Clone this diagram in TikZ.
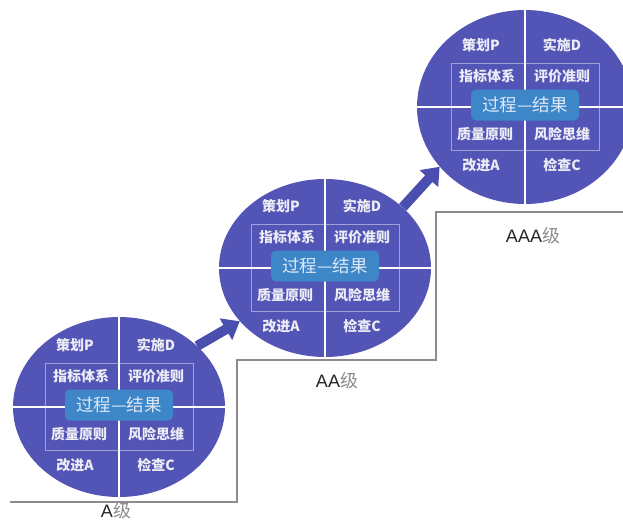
\documentclass[tikz,border=0pt]{standalone}
\usepackage{fontspec}
\setmainfont{Liberation Sans}
\newfontfamily\cjk{Noto Sans CJK SC}
\usetikzlibrary{shapes.geometric,arrows.meta}
\definecolor{circ}{HTML}{5355B6}
\definecolor{arrowblue}{HTML}{4A4EAE}
\definecolor{core}{HTML}{3D86C8}
\definecolor{coretext}{HTML}{DCE8F6}
\definecolor{celltxt}{HTML}{ECECF6}
\definecolor{stepgray}{HTML}{8C8C8C}
\tikzset{
  stagecircle/.style={ellipse, fill=circ, draw=none, inner sep=0pt, minimum width=212pt, minimum height=180pt},
  divline/.style={draw=white, line width=1.3pt},
  innerrect/.style={rectangle, draw=white, draw opacity=0.45, line width=0.8pt, minimum width=148pt, minimum height=87pt, inner sep=0pt},
  corebox/.style={rectangle, rounded corners=5pt, fill=core, minimum width=108pt, minimum height=31pt, inner sep=0pt, text=coretext, font=\cjk\fontsize{17.5}{18}\selectfont},
  celltext/.style={text=celltxt, font=\cjk\bfseries\fontsize{14}{15}\selectfont, inner sep=0pt},
  stepline/.style={draw=stepgray, line width=1.5pt},
  levelarrow/.style={draw=arrowblue, line width=10pt, -{Triangle[width=24pt,length=16pt]}},
  levellabel/.style={font=\fontsize{18}{18}\selectfont, text=black!85, inner sep=0pt},
}
\newcommand{\levelgrade}{{\cjk\color{black!45}级}}
\newcommand{\pdcastage}[4]{%
  \node[stagecircle,#4] (#1) at (#2,#3) {};
  \node[innerrect] (#1-r) at (#1.center) {};
  \draw[divline] (#1.north) -- (#1.south);
  \draw[divline] (#1.west) -- (#1.east);
  \node[corebox] (#1-core) at ([yshift=2pt]#1.center) {过程—结果};
  \node[celltext] (#1-p) at ([xshift=-44pt,yshift=62pt]#1.center) {策划P};
  \node[celltext] (#1-d) at ([xshift=37pt,yshift=62pt]#1.center) {实施D};
  \node[celltext] (#1-zb) at ([xshift=-38pt,yshift=31pt]#1.center) {指标体系};
  \node[celltext] (#1-pj) at ([xshift=37pt,yshift=31pt]#1.center) {评价准则};
  \node[celltext] (#1-zl) at ([xshift=-40pt,yshift=-27pt]#1.center) {质量原则};
  \node[celltext] (#1-fx) at ([xshift=37pt,yshift=-27pt]#1.center) {风险思维};
  \node[celltext] (#1-a) at ([xshift=-44pt,yshift=-58pt]#1.center) {改进A};
  \node[celltext] (#1-c) at ([xshift=37pt,yshift=-58pt]#1.center) {检查C};
}
\begin{document}
\begin{tikzpicture}[x=1pt,y=-1pt]
  \clip (0,0) rectangle (623,522);
  \fill[white] (0,0) rectangle (623,522);
  % step line
  \coordinate (s0) at (10,502);
  \coordinate (s1) at (237,502);
  \coordinate (s2) at (237,360);
  \coordinate (s3) at (436,360);
  \coordinate (s4) at (436,212);
  \coordinate (s5) at (623,212);
  \draw[stepline] (s0) -- (s1) -- (s2) -- (s3) -- (s4) -- (s5);
  % stages
  \pdcastage{c1}{119}{407}{}
  \pdcastage{c2}{325}{268}{minimum height=178pt}
  \pdcastage{c3}{525}{107}{minimum width=216pt, minimum height=194pt}
  % arrows
  \draw[levelarrow] (c1.38) -- (c2.212);
  \draw[levelarrow] (c2.38) -- (c3.215);
  % labels
  \node[levellabel] (la) at (116,511) {A\levelgrade};
  \node[levellabel] (laa) at (337,381) {AA\levelgrade};
  \node[levellabel] (laaa) at (533,236) {AAA\levelgrade};
\end{tikzpicture}
\end{document}
